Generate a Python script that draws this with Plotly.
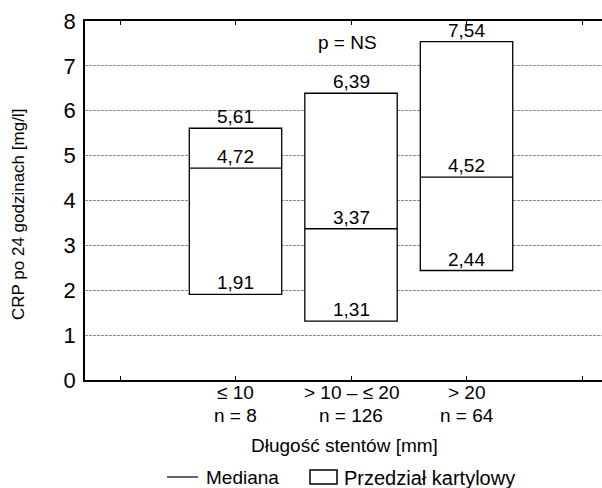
import plotly.graph_objects as go

categories = ["≤ 10", "> 10 – ≤ 20", "> 20"]
n_labels = ["n = 8", "n = 126", "n = 64"]
q1 = [1.91, 1.31, 2.44]
median = [4.72, 3.37, 4.52]
q3 = [5.61, 6.39, 7.54]
positions = [1, 2, 3]

FONT = "Liberation Sans, Arial, sans-serif"
FS = 19
BW = 0.8
L, T, B = 85, 21, 108
PH = 488 - T - B
PW = 602 - L

def px(x):
    return (x - L) / PW

def py(y):
    return (T + PH - y) / PH

def fmt(v):
    return f"{v:.2f}".replace(".", ",")

fig = go.Figure()
fig.add_trace(go.Bar(
    x=positions, y=[b - a for a, b in zip(q1, q3)], base=q1, width=BW,
    marker=dict(color="white", line=dict(color="black", width=1.3)),
    showlegend=False, hoverinfo="skip"))

mx, my = [], []
for p, m in zip(positions, median):
    mx += [p - BW / 2, p + BW / 2, None]
    my += [m, m, None]
fig.add_trace(go.Scatter(x=mx, y=my, mode="lines",
                         line=dict(color="black", width=1.3),
                         showlegend=False, hoverinfo="skip"))

def tfont(size=FS):
    return dict(size=size, color="black", family=FONT)

ann = []
for p, a, m, b in zip(positions, q1, median, q3):
    for v in (a, m, b):
        ann.append(dict(x=p, y=v, xref="x", yref="y", text=fmt(v),
                        showarrow=False, yanchor="bottom", yshift=-1,
                        font=tfont()))
for p, c, t in zip(positions, categories, n_labels):
    ann.append(dict(x=p, y=py(393), xref="x", yref="paper", text=c,
                    showarrow=False, yanchor="middle", font=tfont()))
    ann.append(dict(x=p, y=py(415), xref="x", yref="paper", text=t,
                    showarrow=False, yanchor="middle", font=tfont()))
ann.append(dict(x=1.97, y=7.53, xref="x", yref="y", text="p = NS",
                showarrow=False, yanchor="middle", font=tfont()))
ann.append(dict(x=px(344), y=py(446), xref="paper", yref="paper",
                text="Długość stentów [mm]", showarrow=False, yanchor="middle",
                font=tfont()))
ann.append(dict(x=px(18), y=py(215), xref="paper", yref="paper",
                text="CRP po 24 godzinach [mg/l]", showarrow=False, textangle=-90,
                xanchor="center", yanchor="middle", font=tfont(17)))
# legend
ly = py(478)
ann.append(dict(x=px(204), y=ly, xref="paper", yref="paper", text="Mediana",
                showarrow=False, xanchor="left", yanchor="middle", font=tfont()))
ann.append(dict(x=px(342), y=ly, xref="paper", yref="paper", text="Przedział kartylowy",
                showarrow=False, xanchor="left", yanchor="middle", font=tfont(20)))
shapes = [
    dict(type="line", xref="paper", yref="paper",
         x0=px(167), x1=px(198), y0=py(477), y1=py(477),
         line=dict(color="black", width=1.2)),
    dict(type="rect", xref="paper", yref="paper",
         x0=px(310), x1=px(337), y0=py(484), y1=py(470),
         line=dict(color="black", width=1.5), fillcolor="white"),
]

fig.update_layout(
    width=602, height=488,
    margin=dict(l=L, r=0, t=T, b=B, autoexpand=False),
    plot_bgcolor="white", paper_bgcolor="white",
    font=dict(family=FONT, size=FS, color="black"),
    annotations=ann, shapes=shapes, showlegend=False,
    xaxis=dict(range=[-0.303, 4.173], tickvals=[0, 1, 2, 3, 4],
               showticklabels=False, automargin=False,
               ticks="inside", ticklen=4, tickcolor="black", tickwidth=1,
               showline=True, linecolor="black", linewidth=1.5, mirror="allticks",
               showgrid=False, zeroline=False),
    yaxis=dict(range=[0, 8], tickvals=list(range(0, 9)), automargin=False,
               ticks="", showline=True, linecolor="black", linewidth=1.5,
               mirror=False, showgrid=True, gridcolor="#8c8c8c", griddash="3px,1px",
               gridwidth=1, zeroline=False, ticklabelstandoff=3,
               tickfont=dict(size=22, family=FONT, color="black")),
)
fig.write_html("out.html",
               config={"displayModeBar": False},
               post_script="document.body.style.margin='0';"
                           "document.body.style.overflow='hidden';")
